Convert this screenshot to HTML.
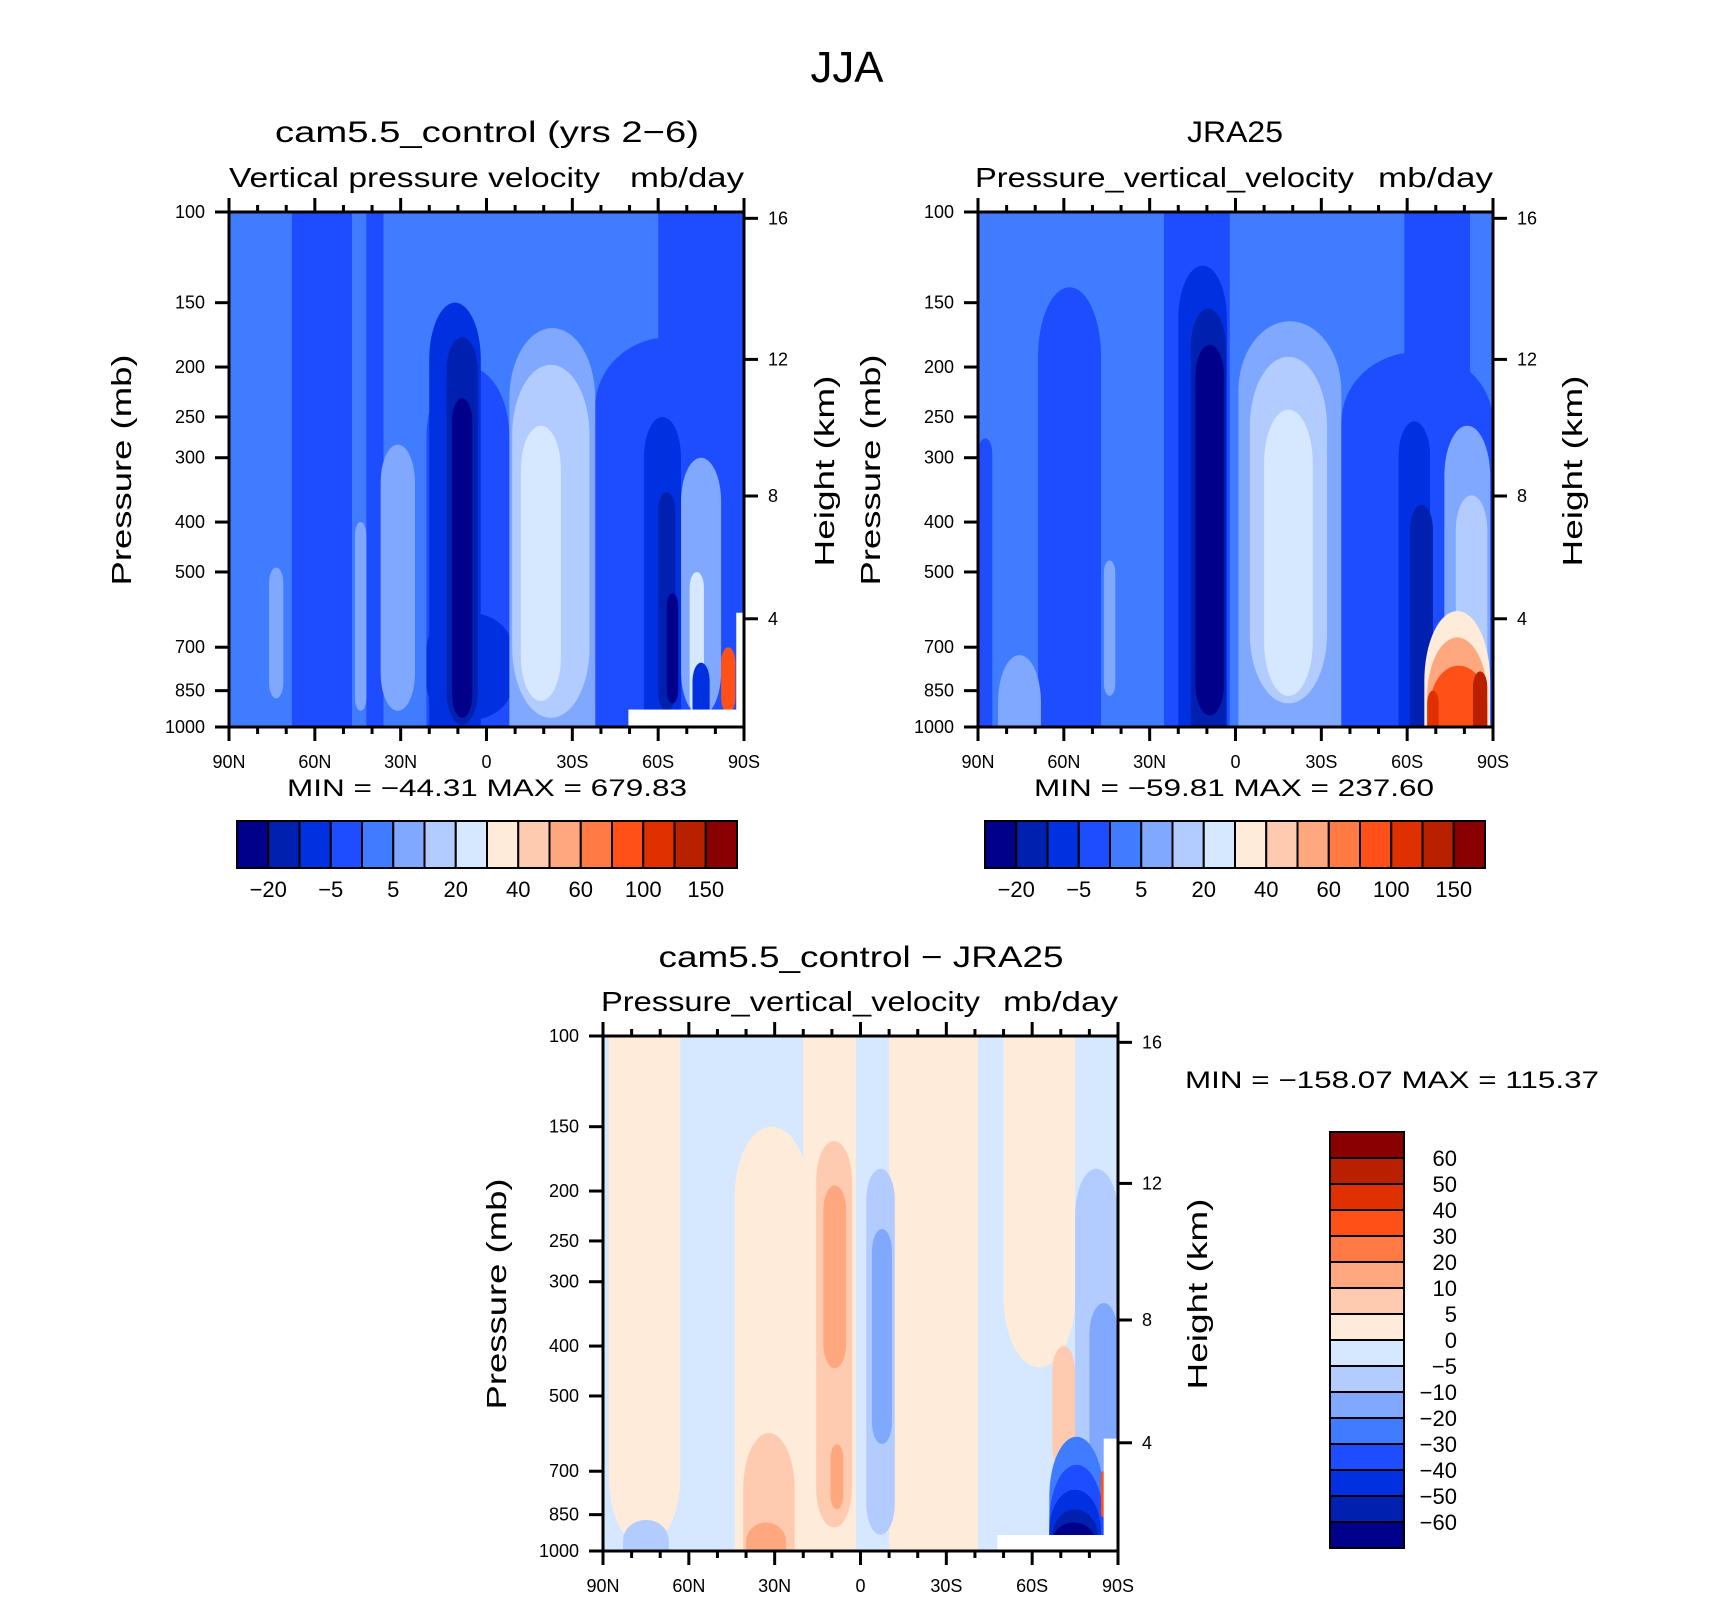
<!DOCTYPE html>
<html><head><meta charset="utf-8"><style>
html,body{margin:0;padding:0;background:#fff;}
svg{display:block;font-family:"Liberation Sans",sans-serif;}
</style></head><body>
<svg id="fig" width="1710" height="1601" viewBox="0 0 1710 1601" xmlns="http://www.w3.org/2000/svg">
<text x="847" y="82" font-size="44" text-anchor="middle" textLength="73" lengthAdjust="spacingAndGlyphs">JJA</text>
</svg>
<script>
// ---- data ----
const colors = ['#00008a','#0020b0','#0030e0','#1e4cff','#3f7cff','#80a8ff','#b3ccff','#d6e8ff','#ffebd9','#ffcbb0','#ffa880','#ff7a45','#ff5018','#e03000','#b82000','#8a0000'];
const pressureTicks = [100,150,200,250,300,400,500,700,850,1000];
const heightTicks = [16,12,8,4];
const latTicks = [90,60,30,0,-30,-60,-90];
const latLabels = ['90N','60N','30N','0','30S','60S','90S'];
const absLabels = ['\u221220','\u22125','5','20','40','60','100','150'];
const diffLabels = ['60','50','40','30','20','10','5','0','\u22125','\u221210','\u221220','\u221230','\u221240','\u221250','\u221260'];
// blobs: [latNorth, latSouth, pTop, pBottom, levelIndex]
const camBg = 4;
const camBlobs = [
 [68,47,100,1000,3],[42,36,100,1000,3],[-38,-90,175,1000,3],[-60,-90,100,1000,3],
 [21,-8,200,1000,3],[20,2,150,1000,2],[21,-9,600,970,2],[14,3,175,990,1],[12,5,230,960,0],
 [-8,-38,168,1000,5],[-9,-36,198,960,6],[-12,-26,260,890,7],
 [-55,-68,250,1000,2],[-60,-66,350,930,1],[-63,-67,550,900,0],
 [-68,-82,300,950,5],[-71,-76,500,950,7],[-72,-78,750,1000,2],[-82,-87,700,940,12],
 [76,71,490,880,5],[37,25,283,930,5],[46,42,400,930,5]
];
const jraBg = 4;
const jraBlobs = [
 [69,47,140,1000,3],[90,85,275,1000,3],[25,2,100,1000,3],[20,3,127,1000,2],[15.6,3.4,154,1000,1],[14,4,181,950,0],
 [-1,-37,163,1000,5],[-5,-32,191,900,6],[-10,-27,242,870,7],
 [-37,-90,187,1000,3],[-59,-82,100,1000,3],[-57,-68,255,1000,2],[-61,-69,370,1000,1],
 [-73,-89,260,1000,5],[-77,-88,355,1000,6],[-66,-89,595,1000,8],[-67,-88,670,1000,10],[-68,-88,760,1000,12],[-83,-88,780,1000,14],[-67,-71,850,1000,13],
 [83,68,725,1000,5],[46,42,475,870,5]
];
const diffBg = 7;
const diffBlobs = [
 [88,63,100,980,8],[44,18,150,1000,8],[20,1.6,100,1000,8],[-10,-41,100,1000,8],[-50,-75,100,440,8],[-67,-75,400,700,9],
 [15.5,3,160,900,9],[41,23,590,1000,9],[13,5,195,442,10],[10.5,6,620,830,10],[40,26,880,1000,10],
 [-2,-12,181,930,6],[-75,-90,181,1000,6],[-4,-11,237,620,5],[-80,-90,330,1000,5],[83,67,870,1000,6],
 [-66,-85,600,1000,4],[-66,-85,680,1000,3],[-66,-84,760,1000,2],[-67,-83,830,1000,1],[-67,-82,880,1000,0],[-84,-85.5,700,860,12]
];
// missing-data masks: [latNorth, latSouth, pTop, pBottom]
const camMask = [[-49.6,-90,925,1000],[-87.3,-90,600,925]];
const diffMask = [[-47.8,-90,931,1000],[-85,-90,605,931]];

const NS='http://www.w3.org/2000/svg';
const svg=document.getElementById('fig');
function el(tag,attrs,parent){const e=document.createElementNS(NS,tag);for(const k in attrs)e.setAttribute(k,attrs[k]);(parent||svg).appendChild(e);return e;}
function txt(s,attrs,parent){const e=el('text',attrs,parent);e.textContent=s;return e;}
function hToP(h){const m=h*1000;return m<=11000?1013.25*Math.pow(1-2.25577e-5*m,5.25588):226.32*Math.exp(-(m-11000)/6341.6);}

function blobPath(x1,x2,y1,y2,flatTop,flatBot){
  const w=x2-x1,h=y2-y1,rx=w/2;
  const ry=Math.min(h/(flatTop||flatBot?1.5:3),w*1.1,70);
  const top=flatTop?y1-5:y1, bot=flatBot?y2+5:y2;
  let d;
  if(flatTop) d=`M${x1},${top} L${x2},${top} `;
  else d=`M${x1},${top+ry} A${rx},${ry} 0 0 1 ${x2},${top+ry} `;
  if(flatBot) d+=`L${x2},${bot} L${x1},${bot} Z`;
  else d+=`L${x2},${bot-ry} A${rx},${ry} 0 0 1 ${x1},${bot-ry} Z`;
  return d;
}

function panel(id,L,T,W,H,bg,blobs,masks){
  const g=el('g',{});
  
  
  const xs=lat=>L+(90-lat)/180*W;
  const ys=p=>T+Math.log10(p/100)*H;
  const cp=el('clipPath',{id:id+'-clip'},g);
  el('rect',{x:L,y:T,width:W,height:H},cp);
  const f=el('g',{'clip-path':'url(#'+id+'-clip)'},g);
  const bgr=el('rect',{x:L,y:T,width:W,height:H,fill:colors[bg]},f);
  
  
  blobs.forEach(b=>{
    const p=el('path',{d:blobPath(xs(b[0]),xs(b[1]),ys(b[2]),ys(b[3]),b[2]<=100,b[3]>=1000),fill:colors[b[4]]},f);
    
    
  });
  (masks||[]).forEach(m=>{
    const r=el('rect',{x:xs(m[0]),y:ys(m[2]),width:xs(m[1])-xs(m[0])+2,height:ys(m[3])-ys(m[2])+2,fill:'#fff'},f);
    
    
  });
  el('rect',{x:L,y:T,width:W,height:H,fill:'none',stroke:'#000','stroke-width':3},g);
  pressureTicks.forEach(p=>{
    const y=ys(p);
    el('line',{x1:L-14,y1:y,x2:L,y2:y,stroke:'#000','stroke-width':3},g);
    const t=txt(String(p),{x:L-24,y:y+6,'font-size':18,'text-anchor':'end'},g);
    
    
  });
  heightTicks.forEach(h=>{
    const y=ys(hToP(h));
    el('line',{x1:L+W,y1:y,x2:L+W+14,y2:y,stroke:'#000','stroke-width':3},g);
    const t=txt(String(h),{x:L+W+24,y:y+6,'font-size':18},g);
    
    
  });
  for(let lat=90;lat>=-90;lat-=10){
    const x=xs(lat),major=lat%30===0,len=major?14:7;
    el('line',{x1:x,y1:T+H,x2:x,y2:T+H+len,stroke:'#000','stroke-width':3},g);
    el('line',{x1:x,y1:T,x2:x,y2:T-len,stroke:'#000','stroke-width':3},g);
  }
  latTicks.forEach((lat,i)=>{
    const t=txt(latLabels[i],{x:xs(lat),y:T+H+41,'font-size':18,'text-anchor':'middle'},g);
    
    
  });
  return g;
}
function vlabel(s,x,y,len,name){
  const t=txt(s,{x:0,y:0,'font-size':28,'text-anchor':'middle',textLength:len,lengthAdjust:'spacingAndGlyphs',transform:`translate(${x},${y}) rotate(-90)`});
  
  
}
function label(s,x,y,size,len,anchor,name){
  const t=txt(s,{x:x,y:y,'font-size':size,'text-anchor':anchor||'start',textLength:len,lengthAdjust:'spacingAndGlyphs'});
  
  
}
function hbar(L,T,W,H,name){
  const g=el('g',{});
  
  
  const bw=W/colors.length;
  colors.forEach((c,i)=>{
    const r=el('rect',{x:L+i*bw,y:T,width:bw,height:H,fill:c,stroke:'#000','stroke-width':2},g);
    
    
  });
  absLabels.forEach((s,i)=>{
    const t=txt(s,{x:L+(2*i+1)*bw,y:T+H+29,'font-size':22,'text-anchor':'middle'},g);
    
    
  });
}
function vbar(L,T,W,H,name){
  const g=el('g',{});
  
  
  const bh=H/colors.length;
  colors.slice().reverse().forEach((c,i)=>{
    const r=el('rect',{x:L,y:T+i*bh,width:W,height:bh,fill:c,stroke:'#000','stroke-width':2},g);
    
    
  });
  diffLabels.forEach((s,i)=>{
    const t=txt(s,{x:L+W+53,y:T+(i+1)*bh+8,'font-size':22,'text-anchor':'end'},g);
    
    
  });
}

panel('cam',229,212,515,515,camBg,camBlobs,camMask);
panel('jra',978,212,515,515,jraBg,jraBlobs,[]);
panel('diff',603,1036,515,515,diffBg,diffBlobs,diffMask);

label('cam5.5_control (yrs 2\u22126)',487,142,30,424,'middle','cam-title');
label('JRA25',1235,142,30,96,'middle','jra-title');
label('cam5.5_control \u2212 JRA25',861,967,30,405,'middle','diff-title');
label('Vertical pressure velocity',229,187,28,371,'start','cam-variable');
label('mb/day',744,187,28,114,'end','cam-units');
label('Pressure_vertical_velocity',975,187,28,379,'start','jra-variable');
label('mb/day',1493,187,28,115,'end','jra-units');
label('Pressure_vertical_velocity',601,1011,28,379,'start','diff-variable');
label('mb/day',1118,1011,28,115,'end','diff-units');
label('MIN = \u221244.31   MAX = 679.83',487,796,24,400,'middle','cam-min-max');
label('MIN = \u221259.81   MAX = 237.60',1234,796,24,400,'middle','jra-min-max');
label('MIN = \u2212158.07   MAX = 115.37',1185,1088,24,414,'start','diff-min-max');
vlabel('Pressure (mb)',131,470,231,'cam-y-axis-title');
vlabel('Pressure (mb)',880,470,231,'jra-y-axis-title');
vlabel('Pressure (mb)',506,1294,231,'diff-y-axis-title');
vlabel('Height (km)',834,471,191,'cam-height-axis-title');
vlabel('Height (km)',1582,471,191,'jra-height-axis-title');
vlabel('Height (km)',1207,1294,191,'diff-height-axis-title');
hbar(237,821,500,47,'cam-colorbar');
hbar(985,821,500,47,'jra-colorbar');
vbar(1330,1132,74,416,'diff-colorbar');
</script>
</body></html>
